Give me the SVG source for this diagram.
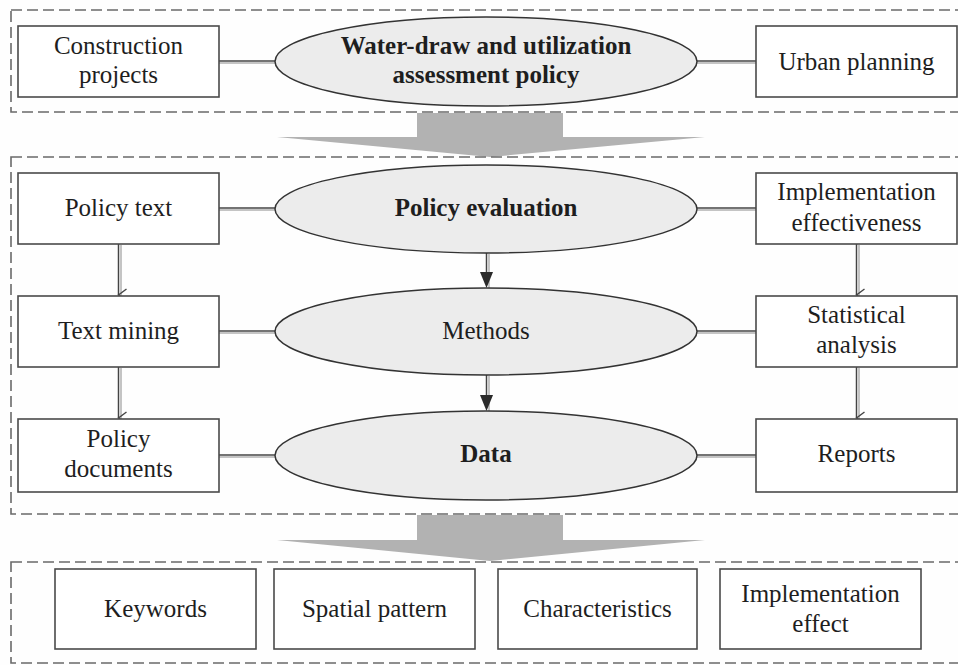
<svg xmlns="http://www.w3.org/2000/svg" width="958" height="665" viewBox="0 0 958 665">
<style>
.bg{fill:#fefefe}
.frame{fill:none;stroke:#6a6a6a;stroke-width:1.6;stroke-dasharray:11 5}
.box{fill:#fff;stroke:#4a4a4a;stroke-width:1.6}
.ell{fill:#ececec;stroke:#333;stroke-width:1.5}
.big{fill:#b2b2b2}
.t{font-family:"Liberation Serif","Times New Roman",serif;font-size:25px;fill:#1e1e1e;text-anchor:middle}
.b{font-weight:bold}
.dk{stroke:#444;stroke-width:1.5;fill:none}
.lt{stroke:#c4c4c4;stroke-width:2;fill:none}
</style>
<defs>
<marker id="open" markerWidth="14" markerHeight="12" refX="7" refY="10" orient="auto-start-reverse" markerUnits="userSpaceOnUse" viewBox="0 0 14 12">
<path d="M1,2 L7,10 L13,2" fill="none" stroke="#444" stroke-width="1.4"/>
</marker>
</defs>
<rect class="bg" x="0" y="0" width="958" height="665"/>
<g id="bigarrows">
<polygon class="big" points="277,137 417,137 417,113 563,113 563,137 705,137 490,157"/>
<polygon class="big" points="277,540 417,540 417,515 563,515 563,540 705,540 490,561"/>
</g>
<g id="frames">
<rect class="frame" x="11" y="10" width="960" height="102"/>
<rect class="frame" x="11" y="157" width="960" height="357"/>
<rect class="frame" x="11" y="562" width="960" height="101"/>
</g>
<g id="connectors">
<line class="lt" x1="219" y1="63" x2="275" y2="63"/>
<line class="dk" x1="219" y1="61" x2="275" y2="61"/>
<line class="lt" x1="697" y1="63" x2="756" y2="63"/>
<line class="dk" x1="697" y1="61" x2="756" y2="61"/>
<line class="lt" x1="219" y1="210" x2="275" y2="210"/>
<line class="dk" x1="219" y1="208" x2="275" y2="208"/>
<line class="lt" x1="697" y1="210" x2="756" y2="210"/>
<line class="dk" x1="697" y1="208" x2="756" y2="208"/>
<line class="lt" x1="219" y1="333" x2="275" y2="333"/>
<line class="dk" x1="219" y1="331" x2="275" y2="331"/>
<line class="lt" x1="697" y1="333" x2="756" y2="333"/>
<line class="dk" x1="697" y1="331" x2="756" y2="331"/>
<line class="lt" x1="219" y1="457" x2="275" y2="457"/>
<line class="dk" x1="219" y1="455" x2="275" y2="455"/>
<line class="lt" x1="697" y1="457" x2="756" y2="457"/>
<line class="dk" x1="697" y1="455" x2="756" y2="455"/>
<line class="lt" x1="121" y1="245" x2="121" y2="296"/>
<line class="dk" x1="118.5" y1="244" x2="118.5" y2="295" marker-end="url(#open)"/>
<line class="lt" x1="121" y1="368" x2="121" y2="419"/>
<line class="dk" x1="118.5" y1="367" x2="118.5" y2="418" marker-end="url(#open)"/>
<line class="lt" x1="859" y1="245" x2="859" y2="296"/>
<line class="dk" x1="856.5" y1="244" x2="856.5" y2="295" marker-end="url(#open)"/>
<line class="lt" x1="859" y1="368" x2="859" y2="419"/>
<line class="dk" x1="856.5" y1="367" x2="856.5" y2="418" marker-end="url(#open)"/>
<line class="lt" x1="489" y1="254" x2="489" y2="288"/>
<line class="dk" x1="486.5" y1="253" x2="486.5" y2="274"/>
<polygon points="480,272 493,272 486.5,288" fill="#2a2a2a"/>
<line class="lt" x1="489" y1="376" x2="489" y2="411"/>
<line class="dk" x1="486.5" y1="375" x2="486.5" y2="396"/>
<polygon points="480,395 493,395 486.5,411" fill="#2a2a2a"/>
</g>
<g id="n-construction"><rect class="box" x="18" y="26" width="201" height="71"/><text class="t" x="118.5" y="54">Construction</text><text class="t" x="118.5" y="83">projects</text></g>
<g id="n-policy"><ellipse class="ell" cx="486" cy="61.5" rx="211" ry="44.5"/><text class="t b" x="486" y="54">Water-draw and utilization</text><text class="t b" x="486" y="83">assessment policy</text></g>
<g id="n-urban"><rect class="box" x="756" y="26" width="201" height="71"/><text class="t" x="856.5" y="70">Urban planning</text></g>
<g id="n-policytext"><rect class="box" x="18" y="173" width="201" height="71"/><text class="t" x="118.5" y="216">Policy text</text></g>
<g id="n-evaluation"><ellipse class="ell" cx="486" cy="209" rx="211" ry="44"/><text class="t b" x="486" y="216">Policy evaluation</text></g>
<g id="n-effectiveness"><rect class="box" x="756" y="173" width="201" height="71"/><text class="t" x="856.5" y="200">Implementation</text><text class="t" x="856.5" y="231">effectiveness</text></g>
<g id="n-textmining"><rect class="box" x="18" y="296" width="201" height="71"/><text class="t" x="118.5" y="339">Text mining</text></g>
<g id="n-methods"><ellipse class="ell" cx="486" cy="331.5" rx="211" ry="43.5"/><text class="t" x="486" y="339">Methods</text></g>
<g id="n-statistical"><rect class="box" x="756" y="296" width="201" height="71"/><text class="t" x="856.5" y="323">Statistical</text><text class="t" x="856.5" y="353">analysis</text></g>
<g id="n-documents"><rect class="box" x="18" y="419" width="201" height="73"/><text class="t" x="118.5" y="447">Policy</text><text class="t" x="118.5" y="477">documents</text></g>
<g id="n-data"><ellipse class="ell" cx="486" cy="455.5" rx="211" ry="44.5"/><text class="t b" x="486" y="462">Data</text></g>
<g id="n-reports"><rect class="box" x="756" y="419" width="201" height="73"/><text class="t" x="856.5" y="462">Reports</text></g>
<g id="n-keywords"><rect class="box" x="55" y="569" width="201" height="80"/><text class="t" x="155.5" y="617">Keywords</text></g>
<g id="n-spatial"><rect class="box" x="274" y="569" width="201" height="80"/><text class="t" x="374.5" y="617">Spatial pattern</text></g>
<g id="n-characteristics"><rect class="box" x="498" y="569" width="199" height="80"/><text class="t" x="597.5" y="617">Characteristics</text></g>
<g id="n-effect"><rect class="box" x="720" y="569" width="201" height="80"/><text class="t" x="820.5" y="602">Implementation</text><text class="t" x="820.5" y="632">effect</text></g>
</svg>
